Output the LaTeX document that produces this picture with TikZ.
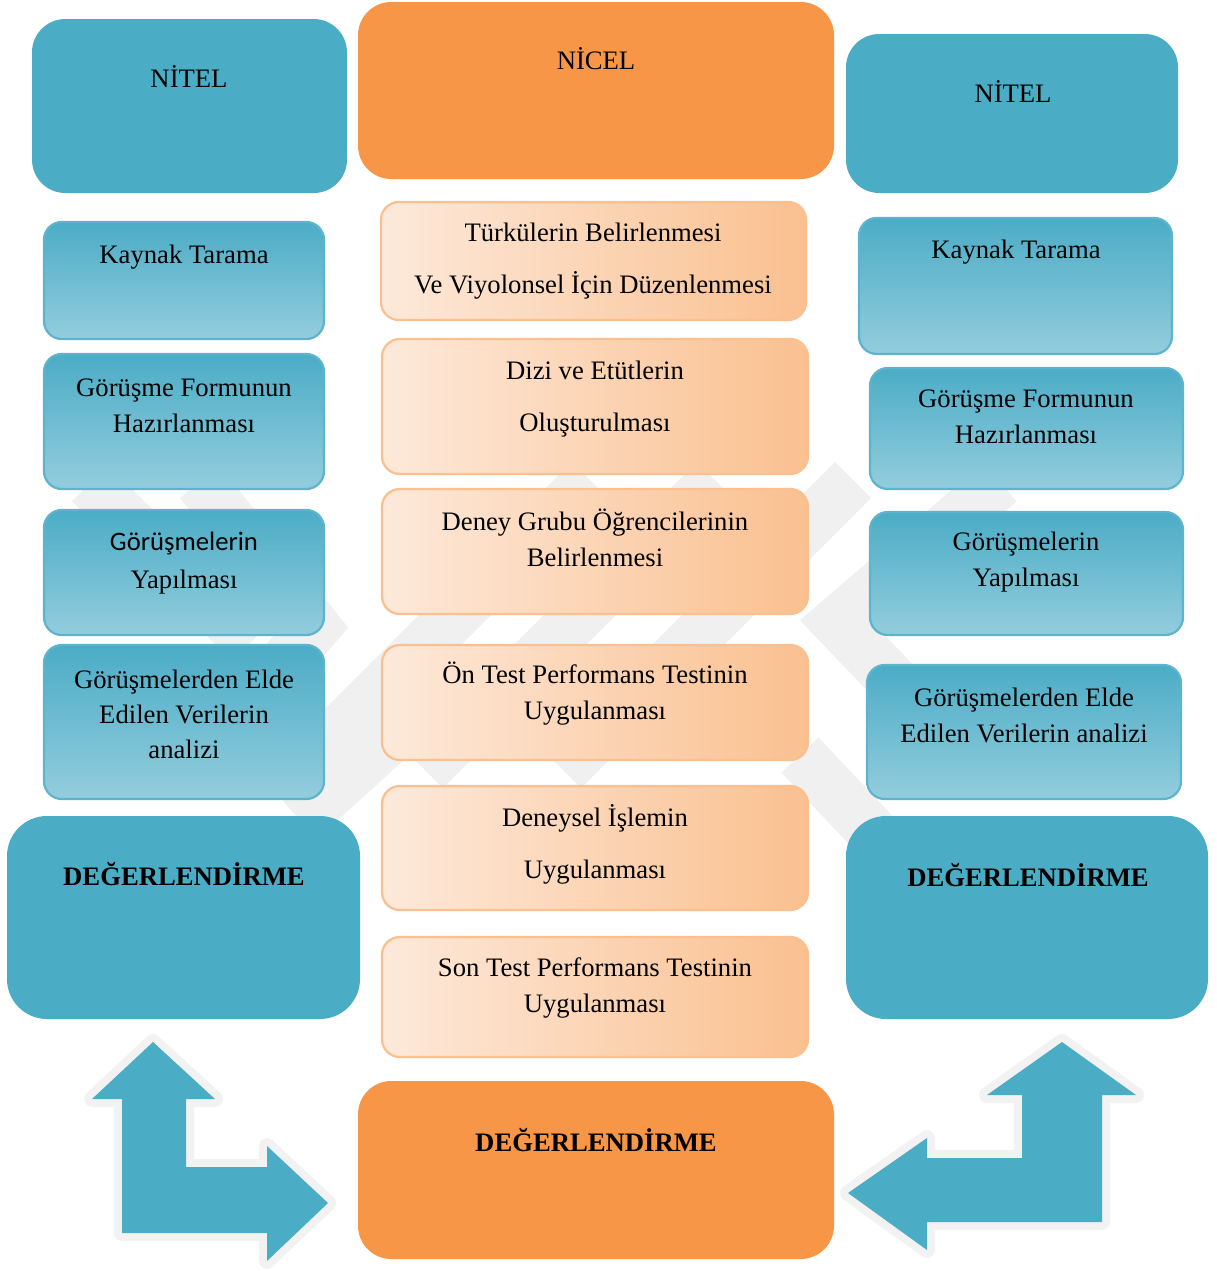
\documentclass[tikz,border=0pt]{standalone}
\usepackage{fontspec}
\setmainfont{Liberation Serif}
\newfontfamily\calibri{Carlito}
\usetikzlibrary{fit}
\definecolor{mavi}{HTML}{4BACC6}
\definecolor{acikmavi}{HTML}{93CDDD}
\definecolor{turuncu}{HTML}{F79646}
\definecolor{seftali}{HTML}{FAC090}
\definecolor{krem}{HTML}{FDE9DA}
\definecolor{kenar}{HTML}{F2F2F2}
\definecolor{filigran}{HTML}{F0F0F0}
\begin{document}
\begin{tikzpicture}[x=0.45pt,y=-0.45pt,line join=round,
	font=\fontsize{12}{16.2}\selectfont,
	kutu/.style={fit={#1},inner sep=0pt},
	nitelkutu/.style={kutu={#1},fill=mavi,rounded corners=15pt},
	nicelkutu/.style={kutu={#1},fill=turuncu,rounded corners=15pt},
	degkutu/.style={kutu={#1},fill=mavi,rounded corners=18pt},
	adimmavi/.style={kutu={#1},top color=mavi,bottom color=acikmavi,draw=mavi!90!white,line width=1pt,rounded corners=8pt},
	adimturuncu/.style={kutu={#1},left color=krem,right color=seftali,draw=seftali,line width=1pt,rounded corners=8pt},
	yazi/.style={align=center,inner sep=0pt},
	genis/.style={font=\fontsize{12}{23.4}\selectfont},
	bant/.style={draw=filigran,line width=23pt,line join=miter},
	donusok/.style={fill=mavi,preaction={draw=kenar,line width=7.2pt}}]
	\useasboundingbox (0,0) rectangle (1217,1271);
	%filigran
	\begin{scope}
		\clip (60,460) rectangle (1160,1000);
		\draw[bant] (90,483)--(250,643) ;
		\draw[bant] (200,482)--(315,627)--(190,772) ;
		\draw[bant] (1000,482)--(837,622)--(980,772) ;
		\draw[bant] (590,480)--(300,770) ;
		\draw[bant] (715,480)--(425,770) ;
		\draw[bant] (853,480)--(563,770) ;
		\draw[bant] (300,820)--(410,720) ;
		\draw[bant] (800,755)--(880,840) ;
	\end{scope}
	%kutular
	\node[nitelkutu={(32,19) (347,193)}] (nitel1) {};
	\node[nicelkutu={(358,2) (834,179)}] (nicel) {};
	\node[nitelkutu={(846,34) (1178,193)}] (nitel2) {};
	\node[adimmavi={(44,222) (324,339)}] (kaynak1) {};
	\node[adimmavi={(44,354) (324,489)}] (form1) {};
	\node[adimmavi={(44,510) (324,635)}] (gorusme1) {};
	\node[adimmavi={(44,645) (324,799)}] (analiz1) {};
	\node[degkutu={(7,816) (360,1019)}] (deg1) {};
	\node[adimturuncu={(381,202) (806,320)}] (turku) {};
	\node[adimturuncu={(382,339) (808,474)}] (dizi) {};
	\node[adimturuncu={(382,489) (808,614)}] (grup) {};
	\node[adimturuncu={(382,645) (808,760)}] (ontest) {};
	\node[adimturuncu={(382,786) (808,910)}] (deneysel) {};
	\node[adimturuncu={(382,937) (808,1057)}] (sontest) {};
	\node[nicelkutu={(358,1081) (834,1259)}] (deg2) {};
	\node[adimmavi={(859,218) (1172,354)}] (kaynak2) {};
	\node[adimmavi={(870,368) (1183,489)}] (form2) {};
	\node[adimmavi={(870,512) (1183,635)}] (gorusme2) {};
	\node[adimmavi={(867,665) (1181,799)}] (analiz2) {};
	\node[degkutu={(846,816) (1208,1019)}] (deg3) {};
	%yazilar
	\node[yazi] (nitel1y) at (189,76) {NİTEL};
	\node[yazi] (kaynak1y) at (184,257) {Kaynak Tarama};
	\node[yazi] (form1y) at (184,406) {Görüşme Formunun\\Hazırlanması};
	\node[yazi,font=\fontsize{12}{17.1}\selectfont] (gorusme1y) at (184,563) {{\calibri Görüşmelerin}\\Yapılması};
	\node[yazi,font=\fontsize{12}{15.75}\selectfont] (analiz1y) at (184,714) {Görüşmelerden Elde\\Edilen Verilerin\\analizi};
	\node[yazi] (deg1y) at (184,874) {\textbf{DEĞERLENDİRME}};
	\node[yazi] (nicely) at (596,59) {NİCEL};
	\node[yazi,genis] (turkuy) at (593,261) {Türkülerin Belirlenmesi\\Ve Viyolonsel İçin Düzenlenmesi};
	\node[yazi,genis] (diziy) at (595,399) {Dizi ve Etütlerin\\Oluşturulması};
	\node[yazi] (grupy) at (595,538) {Deney Grubu Öğrencilerinin\\Belirlenmesi};
	\node[yazi] (ontesty) at (595,694) {Ön Test Performans Testinin\\Uygulanması};
	\node[yazi,genis] (deneysely) at (595,844) {Deneysel İşlemin\\Uygulanması};
	\node[yazi] (sontesty) at (595,988) {Son Test Performans Testinin\\Uygulanması};
	\node[yazi] (deg2y) at (596,1140) {\textbf{DEĞERLENDİRME}};
	\node[yazi] (nitel2y) at (1013,91) {NİTEL};
	\node[yazi] (kaynak2y) at (1016,252) {Kaynak Tarama};
	\node[yazi] (form2y) at (1026,417) {Görüşme Formunun\\Hazırlanması};
	\node[yazi] (gorusme2y) at (1026,562) {Görüşmelerin\\Yapılması};
	\node[yazi] (analiz2y) at (1024,715) {Görüşmelerden Elde\\Edilen Verilerin analizi};
	\node[yazi] (deg3y) at (1028,875) {\textbf{DEĞERLENDİRME}};
	%oklar
	\fill[donusok] (153,1042)--(215,1099)--(186,1099)--(186,1167)--(267,1167)--(267,1146)--(328,1203)--(267,1261)--(267,1233)--(122,1233)--(122,1099)--(92,1099)--cycle ;
	\fill[donusok] (1062,1042)--(1136,1095)--(1102,1095)--(1102,1222)--(927,1222)--(927,1250)--(848,1193)--(927,1138)--(927,1158)--(1022,1158)--(1022,1095)--(987,1095)--cycle ;
\end{tikzpicture}
\end{document}
